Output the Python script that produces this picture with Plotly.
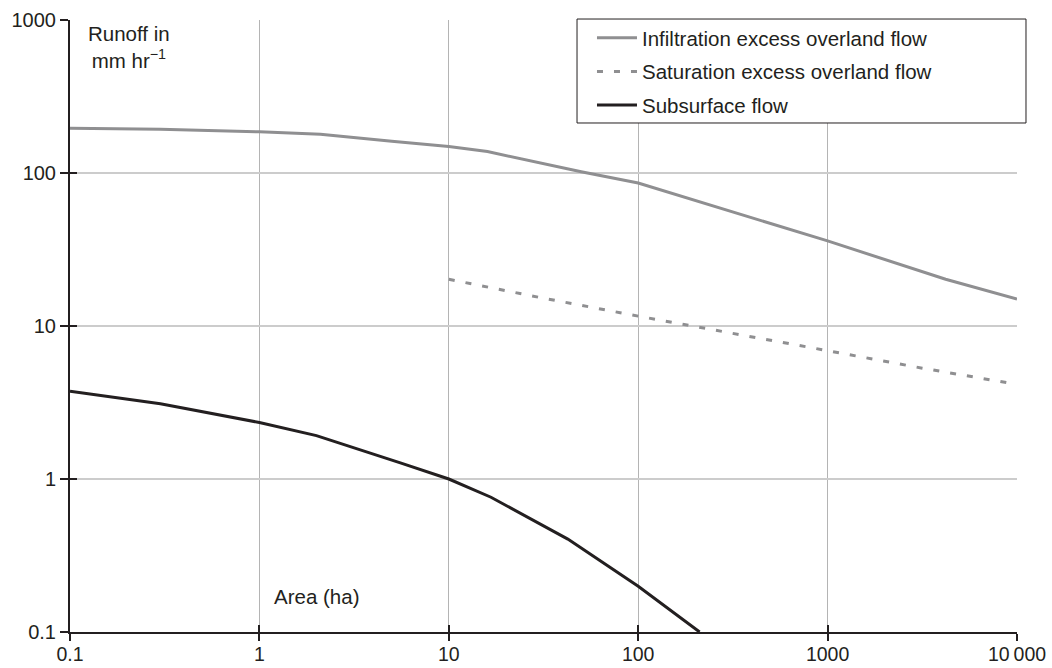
import plotly.graph_objects as go

# ---- data ----
infil_x = [0.1, 0.3, 1, 2.1, 5, 10, 16, 50, 100, 470, 1000, 4200, 10000]
infil_y = [196, 193, 186, 179, 161, 149, 138, 102, 86, 48, 36, 20.2, 15]

sat_x = [10, 31.6, 100, 316, 1000, 3162, 10000]
sat_y = [20.2, 15.2, 11.6, 8.9, 6.9, 5.3, 4.15]

sub_x = [0.1, 0.3, 1, 2, 5.6, 10, 16.7, 42.5, 100, 211]
sub_y = [3.75, 3.1, 2.34, 1.92, 1.27, 1.0, 0.76, 0.405, 0.199, 0.1]

x_tickvals = [0.1, 1, 10, 100, 1000, 10000]
x_ticktext = ["0.1", "1", "10", "100", "1000", "10\u2009000"]
y_tickvals = [0.1, 1, 10, 100, 1000]
y_ticktext = ["0.1", "1", "10", "100", "1000"]

series_names = ["Infiltration excess overland flow",
                "Saturation excess overland flow",
                "Subsurface flow"]

INK = "#231f20"
GREY = "#8f8f91"
FONT = "Liberation Sans, Arial, Helvetica, sans-serif"

fig = go.Figure()
fig.add_trace(go.Scatter(x=infil_x, y=infil_y, mode="lines", name=series_names[0],
                         legendgroup="a", line=dict(color=GREY, width=3)))
fig.add_trace(go.Scatter(x=sat_x, y=sat_y, mode="lines", name=series_names[1],
                         legendgroup="b", line=dict(color=GREY, width=3, dash="6px,11px")))
fig.add_trace(go.Scatter(x=sub_x, y=sub_y, mode="lines", name=series_names[2],
                         legendgroup="c", line=dict(color=INK, width=3)))

fig.update_layout(
    width=1052, height=668,
    margin=dict(l=70, r=35, t=20, b=36, autoexpand=False),
    paper_bgcolor="white", plot_bgcolor="white",
    font=dict(family=FONT, color=INK, size=20),
    showlegend=True,
    legend=dict(
        x=0.5512, y=1.0033, xanchor="left", yanchor="top",
        bgcolor="rgba(0,0,0,0)", borderwidth=0,
        font=dict(size=20.5, color=INK, family=FONT),
        tracegroupgap=4, itemwidth=40,
    ),
    xaxis=dict(
        type="log", range=[-1, 4], automargin=False,
        tickmode="array", tickvals=x_tickvals, ticktext=x_ticktext,
        showgrid=True, gridcolor="#b4b4b4", gridwidth=1,
        showline=True, linecolor=INK, linewidth=2,
        ticks="outside", ticklen=7, tickwidth=2, tickcolor=INK,
        ticklabelstandoff=-3,
        zeroline=False, tickfont=dict(size=19.5),
    ),
    yaxis=dict(
        type="log", range=[-1, 3], automargin=False,
        tickmode="array", tickvals=y_tickvals, ticktext=y_ticktext,
        showgrid=True, gridcolor="#cccccc", gridwidth=1.5,
        showline=True, linecolor=INK, linewidth=2,
        ticks="outside", ticklen=8, tickwidth=2, tickcolor=INK,
        zeroline=False, tickfont=dict(size=20),
    ),
    xaxis2=dict(
        type="log", range=[-1, 4], overlaying="x", anchor="y", side="bottom",
        automargin=False,
        tickmode="array", tickvals=x_tickvals, showticklabels=False,
        showgrid=False, showline=False, zeroline=False,
        ticks="inside", ticklen=7, tickwidth=2, tickcolor=INK,
    ),
    yaxis2=dict(
        type="log", range=[-1, 3], overlaying="y", anchor="x", side="left",
        automargin=False,
        tickmode="array", tickvals=y_tickvals, showticklabels=False,
        showgrid=False, showline=False, zeroline=False,
        ticks="inside", ticklen=7, tickwidth=2, tickcolor=INK,
    ),
    shapes=[
        dict(type="rect", xref="paper", yref="paper",
             x0=0.5354, x1=1.0095, y0=0.8317, y1=1.0016,
             line=dict(color=INK, width=1), fillcolor="white", layer="above"),
    ],
    annotations=[
        dict(text="Runoff in<br>mm hr<sup>\u22121</sup>", xref="paper", yref="paper",
             x=0.0623, y=0.956, xanchor="center", yanchor="middle",
             showarrow=False, align="center", font=dict(size=20.5, color=INK)),
        dict(text="Area (ha)", xref="paper", yref="paper",
             x=0.2603, y=0.0588, xanchor="center", yanchor="middle",
             showarrow=False, font=dict(size=20.5, color=INK)),
    ],
)

# invisible trace so the overlay axes carrying inward tick marks are drawn
fig.add_trace(go.Scatter(x=[1], y=[1], xaxis="x2", yaxis="y2", mode="markers",
                         marker=dict(opacity=0), showlegend=False, hoverinfo="skip"))

fig.write_html("out.html")
